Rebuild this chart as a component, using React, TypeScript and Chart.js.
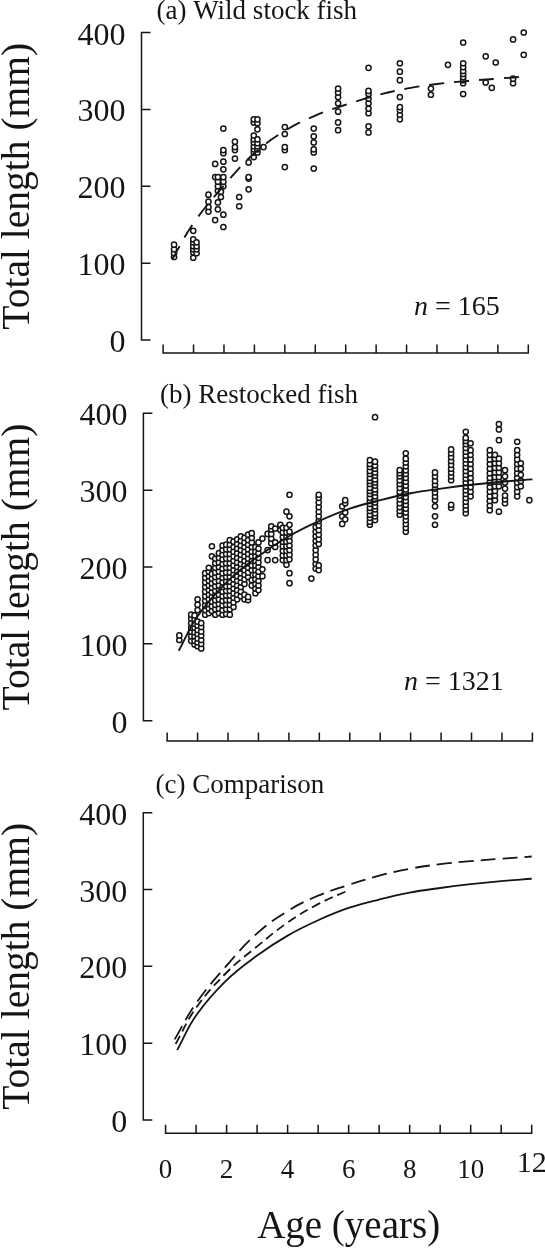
import React, { useEffect, useRef } from "react";
import { Chart, registerables } from "chart.js";

Chart.register(...registerables);

const SERIF = "'Liberation Serif', 'Times New Roman', serif";
const INK = "#151515";

// Axis ticks
const yTicks = [0, 100, 200, 300, 400];
const xTicks = [0, 1, 2, 3, 4, 5, 6, 7, 8, 9, 10, 11, 12];
const xTickLabels = ["0", "", "2", "", "4", "", "6", "", "8", "", "10", "", "12"];

// Fitted growth curves: age (years) -> total length (mm)
const wildCurveAges = [0.3, 1, 2, 3, 4, 5, 6, 7, 8, 9, 10, 11, 12];
const wildCurveLengths = [105, 152, 201, 243, 272, 292, 306, 318, 327, 333, 337, 340, 343];
const earlyCurveAges = [0.33, 1, 2, 3, 4, 5, 6];
const earlyCurveLengths = [99, 146, 192, 226, 257, 281, 299];
const restockedCurveAges = [0.38, 1, 2, 3, 4, 5, 6, 7, 8, 9, 10, 11, 12];
const restockedCurveLengths = [91, 136, 182, 214, 240, 260, 276, 287, 296, 302, 307, 311, 314];

// Wild stock fish: age of each column and the lengths measured at it
const wildAges = [
  0.36, 0.99, 1.1, 1.49, 1.71, 1.8, 1.9, 1.98, 2.36, 2.5, 2.81, 2.98, 3.1, 3.3,
  4.0, 4.95, 5.75, 6.75, 7.78, 8.8, 9.36, 9.86, 10.6, 10.8, 10.93, 11.5, 11.85,
];
const wildLengths = [
  [108, 113, 118, 124],
  [107, 114, 118, 122, 127, 131, 142],
  [113, 118, 122, 127],
  [167, 173, 180, 189],
  [156, 212, 229],
  [170, 179, 194, 200, 206, 212],
  [186, 193],
  [147, 163, 200, 206, 212, 222, 232, 243, 247, 275],
  [236, 247, 251, 258],
  [174, 186],
  [196, 210, 212, 231],
  [238, 244, 248, 252, 257, 261, 266, 283, 287],
  [244, 248, 252, 256, 261, 274, 282, 287],
  [251],
  [225, 247, 251, 268, 277],
  [223, 244, 248, 257, 265, 275],
  [273, 283, 297, 308, 316, 322, 327],
  [270, 278, 295, 301, 308, 314, 320, 324, 354],
  [287, 293, 299, 303, 316, 338, 349, 360],
  [319, 327],
  [358],
  [320, 334, 338, 342, 346, 350, 355, 360, 387],
  [335, 369],
  [328],
  [361],
  [334, 340, 391],
  [371, 400],
];

// Restocked fish: age of each column and the lengths measured at it
const restockedAges = [
  0.4, 0.79, 0.9, 1.0, 1.12, 1.25, 1.37, 1.47, 1.58, 1.7, 1.82, 1.94, 2.06, 2.18,
  2.3, 2.42, 2.54, 2.66, 2.78, 2.9, 3.0, 3.13, 3.3, 3.42, 3.55, 3.72, 3.8, 3.92,
  4.02, 4.74, 4.88, 4.98, 5.75, 5.85, 6.66, 6.83, 7.64, 7.84, 8.8, 9.33, 9.81,
  9.97, 10.6, 10.77, 10.9, 11.1, 11.5, 11.62, 11.9,
];
const restockedLengths = [
  [105, 111],
  [104, 110, 116, 121, 127, 133, 138],
  [99, 104, 110, 115, 121, 126, 132, 137],
  [97, 102, 107, 113, 118, 124, 129, 144, 151, 158],
  [94, 100, 105, 111, 116, 122, 127],
  [138, 144, 150, 156, 162, 168, 174, 180, 186, 192],
  [140, 146, 152, 158, 164, 170, 176, 182, 188, 194, 199],
  [143, 149, 155, 161, 167, 173, 179, 185, 191, 214, 227],
  [138, 145, 151, 157, 163, 169, 175, 181, 187, 193, 199, 205, 211],
  [140, 146, 152, 158, 164, 170, 176, 182, 188, 194, 200, 206, 212, 218],
  [138, 144, 150, 156, 162, 168, 174, 180, 186, 192, 198, 204, 210, 216, 222, 228],
  [139, 145, 151, 157, 163, 169, 175, 181, 187, 193, 199, 205, 211, 217, 223, 229],
  [138, 145, 151, 157, 163, 169, 175, 181, 187, 193, 199, 205, 211, 217, 223, 229, 235],
  [148, 154, 160, 166, 172, 178, 184, 190, 196, 202, 208, 214, 220, 226, 233],
  [158, 164, 170, 176, 182, 188, 194, 200, 206, 212, 218, 224, 230, 236],
  [162, 168, 174, 180, 186, 192, 198, 204, 210, 216, 222, 228, 234, 240],
  [158, 164, 178, 184, 190, 196, 202, 208, 214, 220, 226, 232, 238],
  [157, 161, 187, 193, 199, 205, 211, 217, 223, 229, 235, 242],
  [176, 183, 196, 202, 208, 214, 220, 226, 232, 238, 244],
  [166, 172, 178, 184, 190, 196, 202, 208, 214, 220, 226],
  [170, 176, 182, 188, 194, 200, 206, 212, 218, 224, 232],
  [188, 197, 237],
  [209, 222, 243],
  [231, 237, 243, 249, 253],
  [209, 226, 232, 250],
  [248, 255],
  [209, 215, 221, 227, 233, 239, 245, 251],
  [203, 209, 215, 221, 227, 233, 239, 245, 251, 272],
  [179, 192, 210, 216, 222, 228, 234, 240, 246, 255, 266, 294],
  [185],
  [198, 204, 210, 216, 222, 228, 234, 240, 246, 252],
  [196, 202, 230, 236, 242, 248, 254, 260, 266, 272, 278, 284, 290, 294],
  [256, 266, 279],
  [262, 271, 283, 287],
  [255, 259, 264, 268, 273, 277, 282, 286, 290, 295, 299, 303, 308, 312, 316, 321, 325, 330, 334, 339],
  [261, 266, 270, 275, 279, 284, 288, 292, 297, 301, 306, 310, 314, 319, 323, 328, 332, 337, 395],
  [268, 273, 278, 283, 288, 293, 298, 303, 308, 313, 318, 322, 326],
  [246, 251, 256, 261, 266, 271, 276, 281, 286, 291, 296, 301, 306, 311, 316, 321, 326, 331, 336, 341, 348],
  [255, 266, 279, 287, 292, 297, 302, 307, 312, 318, 323],
  [277, 281, 313, 318, 323, 328, 333, 338, 343, 348, 353],
  [270, 275, 280, 285, 290, 295, 300, 305, 310, 315, 320, 325, 330, 335, 340, 345, 350, 355, 360, 364, 368, 376],
  [292, 298, 304, 310, 316, 322, 328, 334, 340, 346, 352, 361],
  [274, 280, 286, 292, 298, 304, 310, 316, 322, 328, 334, 340, 346, 352],
  [287, 293, 299, 305, 311, 317, 323, 329, 335, 341, 346],
  [272, 305, 311, 317, 323, 329, 335, 341, 365, 379, 386],
  [283, 288, 293, 302, 310, 318, 326],
  [292, 298, 304, 310, 316, 322, 328, 334, 340, 346, 352, 363],
  [305, 312, 320, 328, 335],
  [287],
];

type Pt = { x: number; y: number };

const curvePoints = (ages: number[], lengths: number[]): Pt[] =>
  ages.map((a, i) => ({ x: a, y: lengths[i] }));

const columnPoints = (ages: number[], lengths: number[][]): Pt[] =>
  ages.flatMap((a, i) => lengths[i].map((l) => ({ x: a, y: l })));

const scatterSet = (pts: Pt[]) => ({
  data: pts,
  showLine: false,
  pointRadius: 2.6,
  pointBorderWidth: 1.5,
  pointBackgroundColor: "#ffffff",
  pointBorderColor: INK,
  clip: false,
});

const curveSet = (pts: Pt[], dash: number[], width = 1.8) => ({
  data: pts,
  showLine: true,
  pointRadius: 0,
  borderColor: INK,
  borderWidth: width,
  borderDash: dash,
  tension: 0.4,
  fill: false,
  clip: false,
});

type Panel = {
  top: number;
  height: number;
  area: { left: number; right: number; top: number; bottom: number };
  xMin: number;
  axisY: number;
  title: string;
  titleX: number;
  titleBase: number;
  nText?: string;
  nX?: number;
  nBase?: number;
  xLabelBase?: number;
  xTitleBase?: number;
  datasets: any[];
};

const W = 545;

const panels: Panel[] = [
  {
    top: 0,
    height: 380,
    area: { left: 141.5, right: 528.3, top: 32.5, bottom: 340 },
    xMin: -0.71,
    axisY: 353,
    title: "(a) Wild stock fish",
    titleX: 156.5,
    titleBase: 18.5,
    nText: "165",
    nX: 414,
    nBase: 315,
    datasets: [
      curveSet(curvePoints(wildCurveAges, wildCurveLengths), [15, 10], 1.9),
      scatterSet(columnPoints(wildAges, wildLengths)),
    ],
  },
  {
    top: 380,
    height: 390,
    area: { left: 143.4, right: 532.4, top: 33.3, bottom: 340.7 },
    xMin: -0.78,
    axisY: 361,
    title: "(b) Restocked fish",
    titleX: 160,
    titleBase: 22.5,
    nText: "1321",
    nX: 404,
    nBase: 310,
    datasets: [
      curveSet(curvePoints(restockedCurveAges, restockedCurveLengths), [], 1.9),
      scatterSet(columnPoints(restockedAges, restockedLengths)),
    ],
  },
  {
    top: 770,
    height: 482,
    area: { left: 143.3, right: 531.7, top: 42.7, bottom: 350 },
    xMin: -0.73,
    axisY: 363.3,
    title: "(c) Comparison",
    titleX: 155.6,
    titleBase: 23,
    xLabelBase: 407.5,
    xTitleBase: 468,
    datasets: [
      curveSet(curvePoints(wildCurveAges, wildCurveLengths), [15, 7]),
      curveSet(curvePoints(earlyCurveAges, earlyCurveLengths), [9, 5]),
      curveSet(curvePoints(restockedCurveAges, restockedCurveLengths), []),
    ],
  },
];

// Draws the detached axes, tick labels, axis titles and panel annotations
const framePlugin = (p: Panel) => ({
  id: "frame",
  afterDraw(chart: any) {
    const ctx: CanvasRenderingContext2D = chart.ctx;
    const xs = chart.scales.x;
    const ys = chart.scales.y;
    const ax = chart.chartArea.left;
    ctx.save();
    ctx.strokeStyle = INK;
    ctx.fillStyle = INK;
    ctx.lineWidth = 1.5;
    ctx.setLineDash([]);

    // y axis with inward ticks
    ctx.beginPath();
    ctx.moveTo(ax, ys.getPixelForValue(0) + 0.75);
    ctx.lineTo(ax, ys.getPixelForValue(400) - 0.75);
    yTicks.forEach((v) => {
      const y = ys.getPixelForValue(v);
      ctx.moveTo(ax, y);
      ctx.lineTo(ax + 9, y);
    });
    ctx.stroke();

    ctx.font = `32px ${SERIF}`;
    ctx.textAlign = "right";
    ctx.textBaseline = "alphabetic";
    yTicks.forEach((v) => {
      ctx.fillText(String(v), ax - 16, ys.getPixelForValue(v) + 12);
    });

    // x axis, offset below the plot, ticks pointing up
    const x0 = xs.getPixelForValue(0);
    const x12 = xs.getPixelForValue(12);
    ctx.beginPath();
    ctx.moveTo(x0 - 0.75, p.axisY);
    ctx.lineTo(x12 + 0.75, p.axisY);
    xTicks.forEach((t) => {
      const x = xs.getPixelForValue(t);
      ctx.moveTo(x, p.axisY);
      ctx.lineTo(x, p.axisY - 8.5);
    });
    ctx.stroke();

    if (p.xLabelBase !== undefined) {
      ctx.textAlign = "center";
      xTicks.forEach((t, i) => {
        const label = xTickLabels[i];
        if (!label) return;
        const last = i === xTicks.length - 1;
        ctx.font = `${last ? 30 : 27}px ${SERIF}`;
        ctx.fillText(label, xs.getPixelForValue(t), p.xLabelBase! - (last ? 6 : 0));
      });
      ctx.font = `39px ${SERIF}`;
      ctx.fillText("Age (years)", (x0 + x12) / 2, p.xTitleBase!);
    }

    // y axis title
    ctx.save();
    ctx.translate(29, (chart.chartArea.top + chart.chartArea.bottom) / 2);
    ctx.rotate(-Math.PI / 2);
    ctx.textAlign = "center";
    ctx.font = `39.5px ${SERIF}`;
    ctx.fillText("Total length (mm)", 0, 0);
    ctx.restore();

    // panel title
    ctx.textAlign = "left";
    ctx.font = `27px ${SERIF}`;
    ctx.fillText(p.title, p.titleX, p.titleBase);

    // sample size
    if (p.nText) {
      ctx.font = `italic 28px ${SERIF}`;
      ctx.fillText("n", p.nX!, p.nBase!);
      const w = ctx.measureText("n").width;
      ctx.font = `28px ${SERIF}`;
      ctx.fillText(` = ${p.nText}`, p.nX! + w, p.nBase!);
    }
    ctx.restore();
  },
});

function PanelChart({ p }: { p: Panel }) {
  const ref = useRef<HTMLCanvasElement | null>(null);
  useEffect(() => {
    if (!ref.current) return;
    const chart = new Chart(ref.current, {
      type: "scatter",
      data: { datasets: p.datasets },
      options: {
        animation: false,
        responsive: false,
        devicePixelRatio: 1,
        events: [],
        layout: {
          padding: {
            left: p.area.left,
            right: W - p.area.right,
            top: p.area.top,
            bottom: p.height - p.area.bottom,
          },
        },
        scales: {
          x: { type: "linear", min: p.xMin, max: 12, display: false },
          y: { type: "linear", min: 0, max: 400, display: false },
        },
        plugins: { legend: { display: false }, tooltip: { enabled: false } },
      },
      plugins: [framePlugin(p)],
    } as any);
    return () => chart.destroy();
  }, [p]);
  return (
    <canvas
      ref={ref}
      width={W}
      height={p.height}
      style={{ position: "absolute", left: 0, top: p.top, width: W, height: p.height, display: "block" }}
    />
  );
}

export default function App() {
  return (
    <div style={{ position: "absolute", left: 0, top: 0, width: W, height: 1252, background: "#ffffff" }}>
      {panels.map((p, i) => (
        <PanelChart key={i} p={p} />
      ))}
    </div>
  );
}
